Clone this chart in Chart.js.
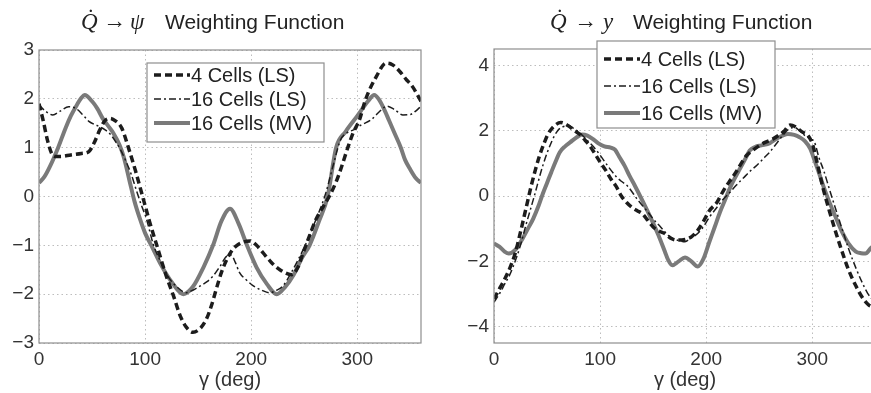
<!DOCTYPE html>
<html>
<head>
<meta charset="utf-8">
<script src="https://cdn.jsdelivr.net/npm/chart.js@4.4.1/dist/chart.umd.min.js"></script>
<style>
  html, body { margin: 0; padding: 0; background: #fff; overflow: hidden; width: 871px; height: 393px; }
  #psi-chart { position: absolute; left: 0; top: 0; }
  #y-chart { position: absolute; left: 440px; top: 0; }
</style>
</head>
<body>
<canvas id="psi-chart" width="440" height="393"></canvas>
<canvas id="y-chart" width="440" height="393"></canvas>
<script>
const SERIES_LABELS = ['4 Cells (LS)', '16 Cells (LS)', '16 Cells (MV)'];
const X_TICKS = [0, 100, 200, 300];
const PSI_Y_TICKS = [-3, -2, -1, 0, 1, 2, 3];
const Y_Y_TICKS = [-4, -2, 0, 2, 4];

// Q -> psi panel
const PSI_LS4_DEG = [0, 4, 8, 12, 16, 20, 30, 40, 47, 52, 57, 62, 67, 72, 78, 85, 91, 97, 104, 111, 120, 127, 133, 139, 145, 152, 158, 163, 167, 172, 177, 182, 186, 193, 199, 205, 211, 219, 227, 238, 244, 249, 255, 261, 268, 274, 280, 285, 291, 296, 302, 308, 318, 327, 333, 340, 346, 352, 360];
const PSI_LS4_VAL = [1.9, 1.55, 1.15, 0.88, 0.82, 0.82, 0.85, 0.88, 0.92, 1.1, 1.35, 1.55, 1.6, 1.55, 1.4, 0.95, 0.52, 0.05, -0.5, -1.0, -1.63, -2.05, -2.44, -2.68, -2.78, -2.7, -2.5, -2.2, -1.9, -1.55, -1.29, -1.1, -1.01, -0.93, -0.91, -1.0, -1.15, -1.35, -1.5, -1.6, -1.45, -1.15, -0.8, -0.47, -0.2, 0.02, 0.3, 0.6, 1.0, 1.3, 1.57, 2.0, 2.46, 2.73, 2.7, 2.56, 2.4, 2.25, 1.95];

const PSI_LS16_DEG = [0, 6, 13, 20, 28, 35, 41, 47, 55, 62, 67, 72, 77, 82, 87, 91, 96, 101, 108, 115, 122, 130, 139, 145, 152, 158, 164, 170, 177, 181, 185, 189, 195, 202, 210, 217, 224, 230, 238, 246, 254, 261, 266, 270, 278, 284, 290, 297, 304, 313, 320, 328, 335, 343, 350, 355, 360];
const PSI_LS16_VAL = [1.88, 1.75, 1.67, 1.75, 1.84, 1.8, 1.68, 1.54, 1.45, 1.37, 1.28, 1.13, 0.95, 0.72, 0.45, 0.18, -0.15, -0.44, -1.0, -1.35, -1.65, -1.85, -1.97, -1.92, -1.83, -1.75, -1.63, -1.45, -1.22, -1.2, -1.35, -1.56, -1.7, -1.83, -1.92, -1.97, -1.92, -1.83, -1.55, -1.22, -0.85, -0.47, -0.2, 0.05, 0.7, 1.15, 1.3, 1.37, 1.47, 1.57, 1.72, 1.85, 1.78, 1.67, 1.68, 1.75, 1.85];

const PSI_MV_DEG = [0, 5, 10, 18, 25, 30, 35, 40, 43, 50, 55, 60, 65, 70, 76, 80, 85, 90, 95, 100, 107, 115, 125, 136, 145, 155, 164, 172, 180, 188, 196, 205, 215, 224, 232, 240, 248, 255, 264, 272, 280, 289, 300, 310, 316, 320, 325, 330, 335, 341, 345, 350, 355, 360];
const PSI_MV_VAL = [0.28, 0.4, 0.6, 1.0, 1.4, 1.65, 1.85, 2.02, 2.08, 1.95, 1.8, 1.6, 1.45, 1.3, 1.05, 0.8, 0.35, -0.1, -0.45, -0.75, -1.05, -1.4, -1.75, -2.0, -1.85, -1.45, -1.0, -0.5, -0.25, -0.55, -1.0, -1.45, -1.8, -2.0, -1.85, -1.6, -1.25, -1.0, -0.5, 0.0, 1.0, 1.33, 1.65, 1.95, 2.08, 2.0, 1.8, 1.55, 1.3, 1.0, 0.75, 0.55, 0.38, 0.28];

// Q -> y panel
const Y_LS4_DEG = [0, 5, 10, 15, 20, 25, 30, 35, 39, 43, 47, 51, 57, 63, 70, 76, 81, 86, 90, 95, 100, 105, 110, 115, 120, 125, 130, 135, 140, 145, 150, 156, 161, 167, 173, 180, 186, 192, 197, 203, 210, 216, 222, 228, 233, 238, 244, 250, 256, 263, 268, 273, 279, 284, 290, 296, 300, 305, 310, 316, 322, 328, 334, 341, 347, 353, 360];
const Y_LS4_VAL = [-3.15, -2.85, -2.55, -2.2, -1.75, -1.1, -0.4, 0.3, 0.8, 1.24, 1.6, 1.9, 2.15, 2.25, 2.15, 2.0, 1.88, 1.7, 1.55, 1.3, 1.04, 0.8, 0.53, 0.3, 0.0, -0.2, -0.35, -0.45, -0.55, -0.75, -0.95, -1.08, -1.15, -1.3, -1.35, -1.33, -1.25, -1.05, -0.8, -0.45, -0.2, 0.15, 0.45, 0.73, 1.0, 1.24, 1.4, 1.54, 1.65, 1.75, 1.85, 1.97, 2.17, 2.12, 1.97, 1.85, 1.6, 0.95, 0.25, -0.45, -1.1, -1.7, -2.25, -2.75, -3.1, -3.33, -3.42];

const Y_LS16_DEG = [0, 5, 10, 15, 21, 25, 30, 38, 46, 54, 60, 65, 70, 76, 82, 88, 94, 100, 107, 115, 120, 126, 135, 144, 150, 157, 164, 170, 176, 180, 185, 190, 196, 203, 210, 216, 222, 228, 235, 241, 248, 254, 260, 266, 272, 278, 283, 288, 293, 298, 302, 306, 311, 316, 322, 328, 334, 341, 347, 352, 356, 360];
const Y_LS16_VAL = [-3.25, -3.0, -2.7, -2.4, -1.9, -1.5, -0.9, 0.0, 0.93, 1.64, 2.0, 2.12, 2.15, 2.05, 1.9, 1.7, 1.5, 1.25, 0.93, 0.6, 0.45, 0.3, -0.1, -0.45, -0.7, -0.95, -1.2, -1.32, -1.38, -1.4, -1.3, -1.2, -1.0, -0.65, -0.35, -0.1, 0.1, 0.32, 0.55, 0.75, 0.95, 1.15, 1.35, 1.6, 1.85, 2.05, 2.1, 2.0, 1.85, 1.75, 1.65, 1.2, 0.75, 0.22, -0.4, -1.0, -1.6, -2.2, -2.65, -2.97, -3.15, -3.3];

const Y_MV_DEG = [0, 5, 10, 14, 20, 27, 32, 37, 42, 46, 50, 54, 58, 62, 67, 72, 78, 83, 88, 93, 98, 104, 110, 114, 118, 123, 128, 133, 140, 148, 155, 161, 164, 168, 174, 180, 186, 192, 197, 203, 208, 213, 218, 222, 227, 232, 237, 241, 246, 252, 260, 266, 272, 277, 283, 288, 293, 298, 302, 306, 311, 316, 322, 328, 334, 341, 346, 350, 355, 360];
const Y_MV_VAL = [-1.45, -1.55, -1.7, -1.76, -1.65, -1.3, -1.0, -0.69, -0.3, 0.07, 0.4, 0.73, 1.05, 1.34, 1.52, 1.65, 1.8, 1.88, 1.85, 1.75, 1.62, 1.52, 1.48, 1.42, 1.2, 0.93, 0.6, 0.3, -0.15, -0.69, -1.2, -1.7, -1.95, -2.12, -2.0, -1.88, -2.0, -2.16, -1.95, -1.4, -0.95, -0.49, -0.1, 0.22, 0.55, 0.85, 1.15, 1.39, 1.5, 1.55, 1.62, 1.75, 1.85, 1.9, 1.87, 1.8, 1.68, 1.45, 1.1, 0.73, 0.25, -0.18, -0.65, -1.1, -1.45, -1.7, -1.75, -1.76, -1.6, -1.45];

const LINE_STYLES = [
  { borderColor: '#1c1c1c', borderWidth: 3.5, borderDash: [7, 4] },
  { borderColor: '#1c1c1c', borderWidth: 1.5, borderDash: [7, 3, 2, 3] },
  { borderColor: '#7a7a7a', borderWidth: 4, borderDash: [] },
];

function toPoints(degs, vals) {
  return degs.map((d, i) => ({ x: d, y: vals[i] }));
}

function fmtTick(v) {
  return v < 0 ? '\u2212' + Math.abs(v) : String(v);
}

const SANS = '"Liberation Sans", Arial, Helvetica, sans-serif';
const SERIF = '"Liberation Serif", "DejaVu Serif", serif';

const panelDecor = {
  id: 'panelDecor',
  afterDraw(chart, args, opts) {
    const { ctx, chartArea: a } = chart;
    ctx.save();
    // axes box
    ctx.strokeStyle = '#8e8e8e';
    ctx.lineWidth = 1.2;
    ctx.setLineDash([]);
    ctx.strokeRect(a.left, a.top, a.right - a.left, a.bottom - a.top);

    // title: math part + words
    const t = opts.title;
    ctx.fillStyle = '#222';
    ctx.textBaseline = 'alphabetic';
    ctx.textAlign = 'left';
    ctx.font = 'italic 23px ' + SERIF;
    ctx.fillText('Q\u0307', t.x, t.y);
    ctx.font = '23px ' + SERIF;
    ctx.fillText('\u2192', t.x + t.arrow, t.y - 1);
    ctx.font = 'italic 23px ' + SERIF;
    ctx.fillText(t.sym, t.x + t.symAt, t.y);
    ctx.font = '21px ' + SANS;
    ctx.fillText('Weighting Function', t.x + t.words, t.y);

    // legend box
    const lg = opts.legend;
    ctx.fillStyle = '#fff';
    ctx.fillRect(lg.x, lg.y, lg.w, lg.h);
    ctx.strokeStyle = '#8e8e8e';
    ctx.lineWidth = 1.2;
    ctx.strokeRect(lg.x, lg.y, lg.w, lg.h);
    ctx.font = '20px ' + SANS;
    ctx.textBaseline = 'middle';
    chart.data.datasets.forEach((ds, i) => {
      const ry = lg.rows[i];
      ctx.strokeStyle = ds.borderColor;
      ctx.lineWidth = ds.borderWidth;
      ctx.setLineDash(ds.borderDash);
      ctx.beginPath();
      ctx.moveTo(lg.s0, ry);
      ctx.lineTo(lg.s1, ry);
      ctx.stroke();
      ctx.setLineDash([]);
      ctx.fillStyle = '#222';
      ctx.fillText(ds.label, lg.s1 + 1, ry + 1);
    });
    ctx.restore();
  },
};

function makeChart(id, series, yTicks, yMin, yMax, cfg) {
  const datasets = series.map((s, i) => ({
    label: SERIES_LABELS[i],
    data: toPoints(s[0], s[1]),
    ...LINE_STYLES[i],
    pointRadius: 0,
    fill: false,
    cubicInterpolationMode: 'monotone',
  }));
  return new Chart(document.getElementById(id), {
    type: 'line',
    data: { datasets },
    plugins: [panelDecor],
    options: {
      responsive: false,
      animation: false,
      events: [],
      layout: { padding: { left: 0, top: cfg.top, right: cfg.right, bottom: 0 } },
      plugins: {
        legend: { display: false },
        tooltip: { enabled: false },
        panelDecor: { title: cfg.title, legend: cfg.legend },
      },
      scales: {
        x: {
          type: 'linear',
          min: 0,
          max: 360,
          afterBuildTicks: (s) => { s.ticks = X_TICKS.map((v) => ({ value: v })); },
          afterFit: (s) => { s.height = 50; },
          grid: { color: '#bdbdbd', lineWidth: 1, drawTicks: false },
          border: { display: false, dash: [1.5, 3] },
          ticks: { color: '#333', font: { family: SANS, size: 19 }, padding: 5, maxRotation: 0, callback: fmtTick },
          title: { display: true, text: 'γ (deg)', color: '#333', font: { family: SANS, size: 20 }, padding: { top: 0, bottom: 1 } },
        },
        y: {
          min: yMin,
          max: yMax,
          afterBuildTicks: (s) => { s.ticks = yTicks.map((v) => ({ value: v })); },
          afterFit: (s) => { s.width = cfg.axisLeft; },
          grid: { color: '#bdbdbd', lineWidth: 1, drawTicks: false },
          border: { display: false, dash: [1.5, 3] },
          ticks: { color: '#333', font: { family: SANS, size: 19 }, padding: 5, callback: fmtTick },
        },
      },
    },
  });
}

makeChart('psi-chart',
  [[PSI_LS4_DEG, PSI_LS4_VAL], [PSI_LS16_DEG, PSI_LS16_VAL], [PSI_MV_DEG, PSI_MV_VAL]],
  PSI_Y_TICKS, -3, 3,
  {
    top: 50, right: 19, axisLeft: 39,
    title: { x: 81, y: 29, arrow: 22, symAt: 49, sym: 'ψ', words: 84 },
    legend: { x: 147, y: 63, w: 177, h: 79, rows: [75, 99, 123], s0: 154, s1: 190 },
  });

makeChart('y-chart',
  [[Y_LS4_DEG, Y_LS4_VAL], [Y_LS16_DEG, Y_LS16_VAL], [Y_MV_DEG, Y_MV_VAL]],
  Y_Y_TICKS, -4.5, 4.5,
  {
    top: 49, right: 4, axisLeft: 54,
    title: { x: 110, y: 29, arrow: 24, symAt: 53, sym: 'y', words: 83 },
    legend: { x: 157, y: 41, w: 178, h: 87, rows: [59, 86, 113], s0: 164, s1: 200 },
  });
</script>
</body>
</html>
